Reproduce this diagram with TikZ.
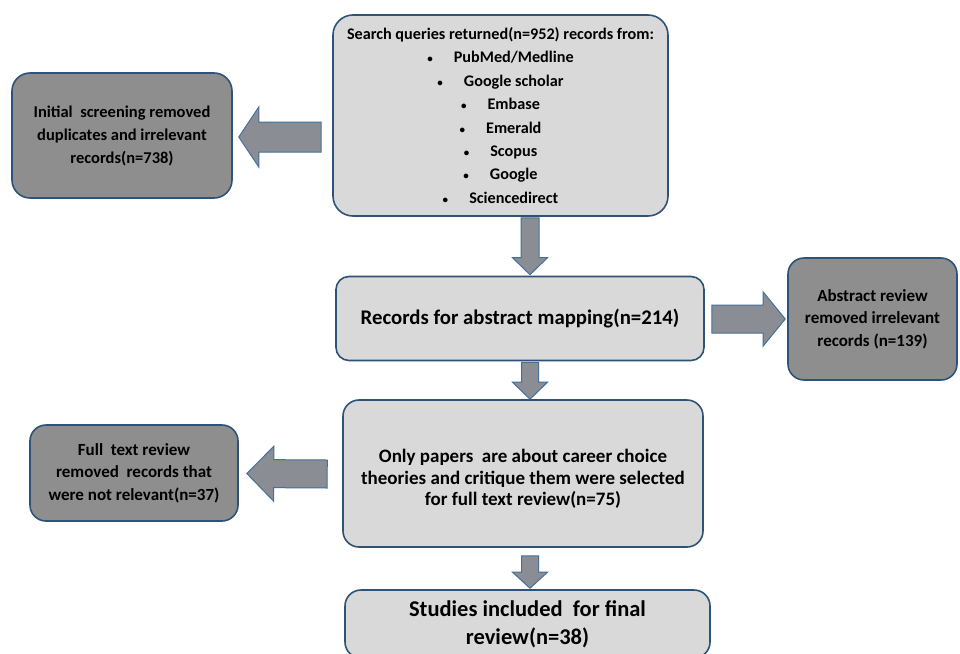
\documentclass[tikz,border=0pt]{standalone}
\usepackage{fontspec}
\setmainfont{Carlito}
\usetikzlibrary{calc}
\definecolor{boxline}{HTML}{2F5376}
\definecolor{lightfill}{HTML}{D9D9D9}
\definecolor{darkfill}{HTML}{8E8E8E}
\definecolor{arrowfill}{HTML}{8A8E94}
\definecolor{arrowline}{HTML}{44709A}
\tikzset{
  box/.style={draw=boxline, line width=1.6pt, rounded corners=16pt, align=center, inner sep=0pt},
  lightbox/.style={box, fill=lightfill},
  darkbox/.style={box, fill=darkfill},
  blockarrow/.style={fill=arrowfill, draw=arrowline, line width=1pt, line join=miter},
}
% tail, tip, half shaft, half head, head length
\newcommand\blockarr[5]{%
  \draw[blockarrow] ($(#1)!#3!90:(#2)$) -- ($(#2)!#5!(#1)!#3!90:(#2)$) --
    ($(#2)!#5!(#1)!#4!90:(#2)$) -- (#2) -- ($(#2)!#5!(#1)!#4!-90:(#2)$) --
    ($(#2)!#5!(#1)!#3!-90:(#2)$) -- ($(#1)!#3!-90:(#2)$) -- cycle;}
\newcommand\itm[1]{{\fontsize{11}{11}\selectfont\textbullet}\hspace{1.3em}#1}
\begin{document}
\begin{tikzpicture}[x=1pt,y=-1pt]
\clip (0,0) rectangle (960,653);
\fill[white] (0,0) rectangle (960,653);

\node[lightbox, minimum width=335pt, minimum height=201pt, rounded corners=20pt,
  font=\fontsize{16.2}{23.4}\selectfont\bfseries] (top) at (500.5,115.5)
  {Search queries returned(n=952) records from:\\
   \itm{PubMed/Medline}\\ \itm{Google scholar}\\ \itm{Embase}\\ \itm{Emerald}\\
   \itm{Scopus}\\ \itm{Google}\\ \itm{Sciencedirect}};

\node[darkbox, minimum width=220pt, minimum height=125pt, rounded corners=18pt,
  font=\fontsize{16.5}{23}\selectfont\bfseries] (init) at (122,135.5)
  {Initial\ \ screening removed\\duplicates and irrelevant\\records(n=738)};

\node[lightbox, minimum width=368pt, minimum height=84pt, rounded corners=13pt,
  font=\fontsize{20.8}{24}\selectfont\bfseries] (mid) at (520,318.5)
  {Records for abstract mapping(n=214)};

\node[darkbox, minimum width=169pt, minimum height=122pt,
  font=\fontsize{17}{22.5}\selectfont\bfseries] (abs) at (872.5,319)
  {Abstract review\\removed irrelevant\\records (n=139)};

\node[lightbox, minimum width=360pt, minimum height=147pt,
  font=\fontsize{19}{21.5}\selectfont\bfseries] (sel) at (523,473.5)
  {\rule{0pt}{24pt}Only papers\ \ are about career choice\\theories and critique them were selected\\for full text review(n=75)};

\node[darkbox, minimum width=208pt, minimum height=96pt,
  font=\fontsize{17}{22.5}\selectfont\bfseries] (full) at (134,473)
  {Full\ \ text review\\removed\ \ records that\\were not relevant(n=37)};

\node[lightbox, minimum width=365pt, minimum height=68pt,
  font=\fontsize{22.5}{28}\selectfont\bfseries] (fin) at (527.5,624)
  {Studies included\ \ for final\\review(n=38)};

\coordinate (ax) at (530,0);
\coordinate (t1) at ($(init.east -| top.west)+(-11,1.5)$);
\coordinate (h1) at ($(init.east)+(6,1.5)$);
\blockarr{t1}{h1}{15pt}{30pt}{20pt}

\coordinate (t2) at ($(ax |- top.south)+(0,1)$);
\coordinate (h2) at ($(ax |- mid.north)+(0,-1)$);
\blockarr{t2}{h2}{9pt}{17.5pt}{17pt}

\coordinate (t3) at ($(mid.east)+(7,0.5)$);
\coordinate (h3) at ($(mid.east -| abs.west)+(-2,0.5)$);
\blockarr{t3}{h3}{14pt}{27pt}{22pt}

\coordinate (t4) at ($(ax |- mid.south)+(0,1)$);
\coordinate (h4) at ($(ax |- sel.north)+(0,0)$);
\blockarr{t4}{h4}{8.5pt}{17.5pt}{17pt}

\coordinate (t5) at ($(sel.west)+(-15,0.5)$);
\coordinate (h5) at ($(full.east)+(8,0.5)$);
\blockarr{t5}{h5}{14pt}{27.5pt}{27pt}

\coordinate (t6) at ($(ax |- sel.south)+(0,8)$);
\coordinate (h6) at ($(ax |- fin.north)+(0,-1)$);
\blockarr{t6}{h6}{8.5pt}{17.5pt}{16pt}
\end{tikzpicture}
\end{document}
